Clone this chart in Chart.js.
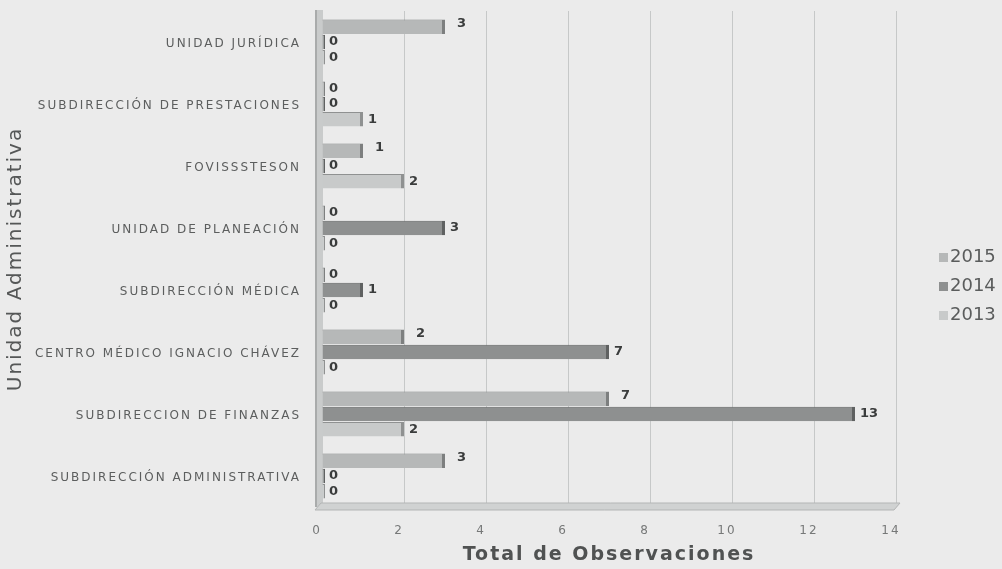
<!DOCTYPE html>
<html>
<head>
<meta charset="utf-8">
<script src="https://cdn.jsdelivr.net/npm/chart.js@4.4.1/dist/chart.umd.min.js"></script>
<style>
  html, body { margin: 0; padding: 0; background: #ebebeb; }
  #wrap { width: 1002px; height: 569px; }
</style>
</head>
<body>
<div id="wrap"><canvas id="obsChart" width="1002" height="569"></canvas></div>
<script>
// ================================
// Data
// ================================

const categories = [
    "UNIDAD JURÍDICA",
    "SUBDIRECCIÓN DE PRESTACIONES",
    "FOVISSSTESON",
    "UNIDAD DE PLANEACIÓN",
    "SUBDIRECCIÓN MÉDICA",
    "CENTRO MÉDICO IGNACIO CHÁVEZ",
    "SUBDIRECCION DE FINANZAS",
    "SUBDIRECCIÓN ADMINISTRATIVA"
];

const years = ["2015", "2014", "2013"];

const values2015 = [3, 0, 1, 0, 0, 2, 7, 3];
const values2014 = [0, 0, 0, 3, 1, 7, 13, 0];
const values2013 = [0, 1, 2, 0, 0, 0, 2, 0];

const xTicks = [0, 2, 4, 6, 8, 10, 12, 14];

const fills = ["#b6b8b8", "#8e9090", "#c8caca"];
const edges = ["#7d7f7f", "#5f6161", "#8f9191"];

// ================================
// Plugins
// ================================

// background + letter spacing like the scanned chart
const pageLook = {
    id: "pageLook",
    beforeDraw(chart) {
        const ctx = chart.ctx;
        ctx.save();
        ctx.fillStyle = "#ebebeb";
        ctx.fillRect(0, 0, chart.width, chart.height);
        ctx.restore();
        ctx.letterSpacing = "2px";
    }
};

// 3D-ish wall and floor
const wallFloor = {
    id: "wallFloor",
    beforeDatasetsDraw(chart) {
        const a = chart.chartArea;
        const ctx = chart.ctx;
        ctx.save();
        ctx.fillStyle = "#c9cbcb";
        ctx.fillRect(a.left - 7, a.top - 1, 8, a.bottom - a.top + 1);
        ctx.fillStyle = "#a9abab";
        ctx.fillRect(a.left - 7, a.top - 1, 2, a.bottom - a.top + 1);
        ctx.fillStyle = "#d0d2d2";
        ctx.beginPath();
        ctx.moveTo(a.left - 7, a.bottom + 3);
        ctx.lineTo(a.left - 1, a.bottom - 4);
        ctx.lineTo(a.right + 4, a.bottom - 4);
        ctx.lineTo(a.right - 2, a.bottom + 3);
        ctx.closePath();
        ctx.fill();
        ctx.strokeStyle = "#b3b5b5";
        ctx.lineWidth = 1;
        ctx.stroke();
        ctx.restore();
    }
};

// value labels at bar ends
const valueLabels = {
    id: "valueLabels",
    afterDatasetsDraw(chart) {
        const ctx = chart.ctx;
        ctx.save();
        ctx.letterSpacing = "0px";
        ctx.font = "bold 13px 'DejaVu Sans', sans-serif";
        ctx.fillStyle = "#3a3c3c";
        ctx.textAlign = "left";
        ctx.textBaseline = "middle";
        chart.data.datasets.forEach((ds, i) => {
            chart.getDatasetMeta(i).data.forEach((bar, j) => {
                const v = ds.data[j];
                let dx = 5, dy = 0;
                if (v === 0) { dx = 4; }
                else if (i === 0) { dx = 12; dy = -3; }
                ctx.fillText(String(v), bar.x + dx, bar.y + dy);
            });
        });
        ctx.restore();
    }
};

// legend on the right
const sideLegend = {
    id: "sideLegend",
    afterDraw(chart) {
        const ctx = chart.ctx;
        ctx.save();
        ctx.letterSpacing = "0px";
        ctx.font = "18px 'DejaVu Sans', sans-serif";
        ctx.textAlign = "left";
        ctx.textBaseline = "middle";
        chart.data.datasets.forEach((ds, i) => {
            const y = 257 + i * 29;
            ctx.fillStyle = ds.backgroundColor;
            ctx.fillRect(939, y - 4, 9, 9);
            ctx.fillStyle = "#5a5c5c";
            ctx.fillText(ds.label, 950, y);
        });
        ctx.restore();
    }
};

// ================================
// Chart
// ================================

const ctx = document.getElementById("obsChart").getContext("2d");

const chart = new Chart(ctx, {
    type: "bar",
    data: {
        labels: categories,
        datasets: [
            {
                label: years[0],
                data: values2015,
                backgroundColor: fills[0],
                borderColor: edges[0],
                borderWidth: { top: 1, right: 3, bottom: 0, left: 0 },
                borderSkipped: false,
                minBarLength: 3
            },
            {
                label: years[1],
                data: values2014,
                backgroundColor: fills[1],
                borderColor: edges[1],
                borderWidth: { top: 1, right: 3, bottom: 0, left: 0 },
                borderSkipped: false,
                minBarLength: 3
            },
            {
                label: years[2],
                data: values2013,
                backgroundColor: fills[2],
                borderColor: edges[2],
                borderWidth: { top: 1, right: 3, bottom: 0, left: 0 },
                borderSkipped: false,
                minBarLength: 3
            }
        ]
    },
    options: {
        indexAxis: "y",
        responsive: false,
        animation: false,
        layout: {
            padding: { left: 0, top: 11, right: 106, bottom: 0 }
        },
        datasets: {
            bar: {
                categoryPercentage: 0.74,
                barPercentage: 0.95
            }
        },
        plugins: {
            legend: { display: false },
            tooltip: { enabled: false }
        },
        scales: {
            x: {
                min: 0,
                max: 14,
                afterBuildTicks(scale) {
                    scale.ticks = xTicks.map(v => ({ value: v }));
                },
                afterFit(scale) {
                    scale.height = 62;
                },
                ticks: {
                    color: "#767878",
                    font: { family: "'DejaVu Sans', sans-serif", size: 12 },
                    padding: 17,
                    labelOffset: -5
                },
                grid: {
                    color: "#c6c8c8",
                    drawTicks: false
                },
                border: { display: false },
                title: {
                    display: true,
                    text: "Total de Observaciones",
                    color: "#505252",
                    font: { family: "'DejaVu Sans', sans-serif", size: 19, weight: "bold" },
                    padding: { top: 0, bottom: 3 }
                }
            },
            y: {
                afterFit(scale) {
                    scale.width = 322;
                    scale.paddingTop = 0;
                    scale.paddingBottom = 0;
                },
                ticks: {
                    color: "#5c5e5e",
                    font: { family: "'DejaVu Sans', sans-serif", size: 12 },
                    padding: 13,
                    labelOffset: 2
                },
                grid: { display: false },
                border: { display: false },
                title: {
                    display: true,
                    text: "Unidad Administrativa",
                    color: "#555757",
                    font: { family: "'DejaVu Sans', sans-serif", size: 20 },
                    padding: { top: 4, bottom: 0 }
                }
            }
        }
    },
    plugins: [pageLook, wallFloor, valueLabels, sideLegend]
});
</script>
</body>
</html>
